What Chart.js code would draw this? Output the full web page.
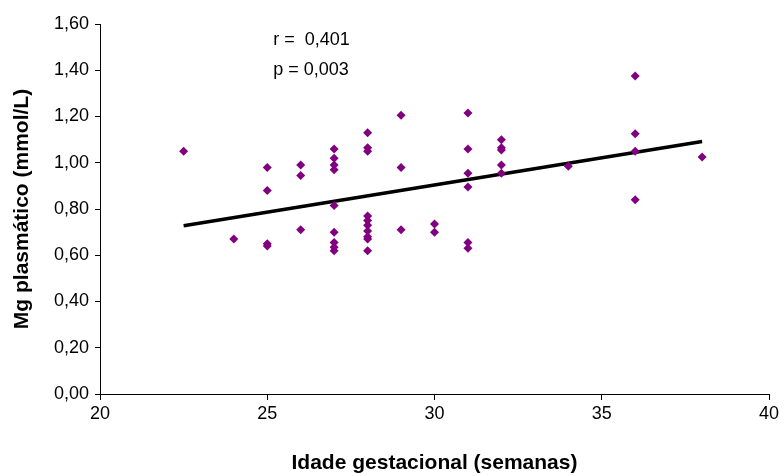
<!DOCTYPE html>
<html>
<head>
<meta charset="utf-8">
<script src="https://cdn.jsdelivr.net/npm/chart.js@4/dist/chart.umd.min.js"></script>
<style>
html,body{margin:0;padding:0;background:#fff;}
#wrap{width:784px;height:476px;}
</style>
</head>
<body>
<div id="wrap"><canvas id="grafico_mg"></canvas></div>
<script>
// idade gestacional (semanas) e Mg plasmatico (mmol/L)
var idade_semanas = [22.5, 24,
	25, 25, 25, 25,
	26, 26, 26,
	27, 27, 27, 27, 27, 27, 27, 27, 27,
	28, 28, 28, 28, 28, 28, 28, 28, 28, 28,
	29, 29, 29,
	30, 30,
	31, 31, 31, 31, 31, 31,
	32, 32, 32, 32, 32,
	34,
	36, 36, 36, 36,
	38];
var mg_plasmatico = [1.05, 0.67,
	0.98, 0.88, 0.65, 0.64,
	0.99, 0.945, 0.71,
	1.06, 1.02, 0.99, 0.97, 0.815, 0.70, 0.655, 0.635, 0.62,
	1.13, 1.065, 1.05, 0.77, 0.75, 0.73, 0.705, 0.68, 0.67, 0.62,
	1.205, 0.98, 0.71,
	0.735, 0.70,
	1.215, 1.06, 0.955, 0.895, 0.655, 0.63,
	1.10, 1.065, 1.055, 0.99, 0.955,
	0.985,
	1.375, 1.125, 1.05, 0.84,
	1.025];
var tendencia_x = [22.5, 38];
var tendencia_y = [0.728, 1.092];
var ticks_x = [20, 25, 30, 35, 40];
var ticks_y = [0, 0.2, 0.4, 0.6, 0.8, 1.0, 1.2, 1.4, 1.6];
var texto_r = "r =  0,401";
var texto_p = "p = 0,003";

var pontos = [];
for (var i = 0; i < idade_semanas.length; i++) {
	pontos.push({x: idade_semanas[i], y: mg_plasmatico[i]});
}
var linha = [];
for (var j = 0; j < tendencia_x.length; j++) {
	linha.push({x: tendencia_x[j], y: tendencia_y[j]});
}

var fonte = "'Liberation Sans', Arial, sans-serif";

// escreve r e p no grafico
var plugin_texto = {
	id: "plugin_texto",
	afterDatasetsDraw: function(chart) {
		var ctx = chart.ctx;
		var sx = chart.scales.x, sy = chart.scales.y;
		ctx.save();
		ctx.fillStyle = "#000";
		ctx.font = "18px " + fonte;
		ctx.textAlign = "left";
		ctx.textBaseline = "middle";
		ctx.fillText(texto_r, sx.getPixelForValue(25.18), sy.getPixelForValue(1.53));
		ctx.fillText(texto_p, sx.getPixelForValue(25.18), sy.getPixelForValue(1.40));
		ctx.restore();
	}
};

new Chart(document.getElementById("grafico_mg"), {
	type: "scatter",
	data: {
		datasets: [{
			label: "Mg",
			data: pontos,
			backgroundColor: "#800080",
			borderColor: "#800080",
			pointStyle: "rectRot",
			pointRadius: 4.5,
			pointHoverRadius: 4.5,
			borderWidth: 0
		}, {
			label: "tendencia",
			type: "line",
			data: linha,
			borderColor: "#000",
			borderWidth: 3.5,
			pointRadius: 0,
			fill: false
		}]
	},
	options: {
		responsive: true,
		maintainAspectRatio: false,
		animation: false,
		layout: {padding: {top: 24, right: 15, left: 0, bottom: 0}},
		plugins: {
			legend: {display: false},
			tooltip: {enabled: false}
		},
		scales: {
			x: {
				type: "linear",
				min: 20,
				max: 40,
				afterBuildTicks: function(scale) {
					scale.ticks = ticks_x.map(function(v){ return {value: v}; });
				},
				afterFit: function(scale) { scale.height = 82; },
				grid: {drawOnChartArea: false, drawTicks: true, tickLength: 6, color: "#000"},
				border: {display: true, color: "#000", width: 1},
				ticks: {color: "#000", font: {family: fonte, size: 18}, padding: 3},
				title: {
					display: true,
					text: "Idade gestacional (semanas)",
					color: "#000",
					font: {family: fonte, size: 21, weight: "bold"},
					padding: {top: 0, bottom: 0}
				}
			},
			y: {
				type: "linear",
				min: 0,
				max: 1.6,
				afterBuildTicks: function(scale) {
					scale.ticks = ticks_y.map(function(v){ return {value: v}; });
				},
				afterFit: function(scale) { scale.width = 100; },
				grid: {drawOnChartArea: false, drawTicks: true, tickLength: 5, color: "#000"},
				border: {display: true, color: "#000", width: 1},
				ticks: {
					color: "#000",
					font: {family: fonte, size: 18},
					padding: 6,
					callback: function(v) { return v.toFixed(2).replace(".", ","); }
				},
				title: {
					display: true,
					text: "Mg plasmático (mmol/L)",
					color: "#000",
					font: {family: fonte, size: 21, weight: "bold"},
					padding: {top: 10, bottom: 0}
				}
			}
		}
	},
	plugins: [plugin_texto]
});
</script>
</body>
</html>
